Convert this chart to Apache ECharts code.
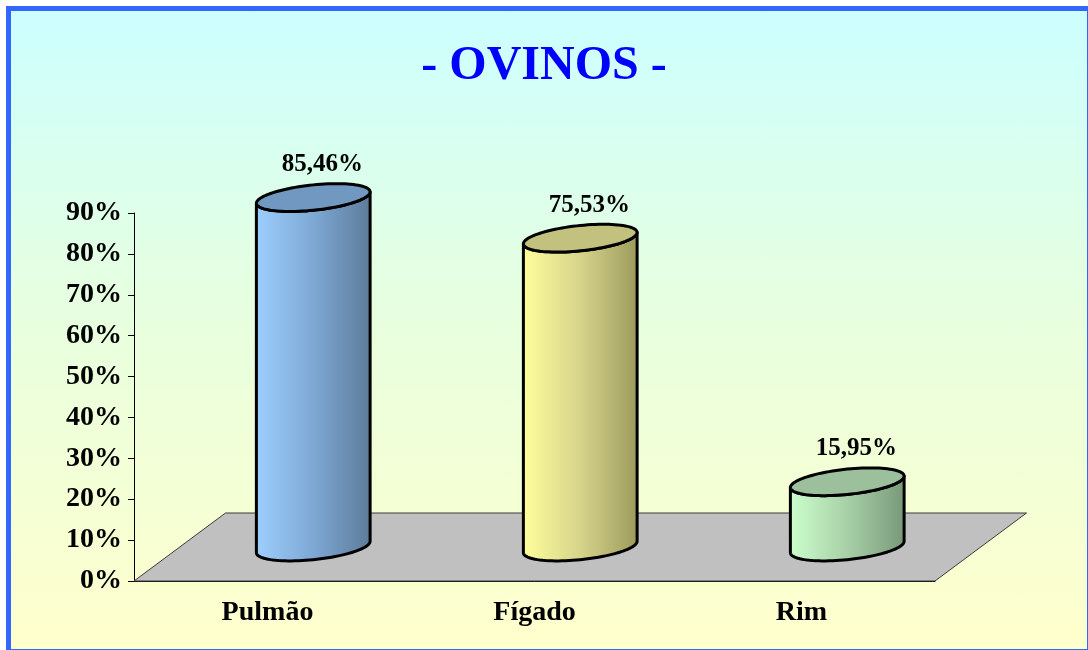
<!DOCTYPE html>
<html>
<head>
<meta charset="utf-8">
<script src="https://cdn.jsdelivr.net/npm/echarts@6/dist/echarts.min.js"></script>
<style>
  html, body { margin: 0; padding: 0; width: 1088px; height: 650px; overflow: hidden; background: #fff; }
  #frame {
    position: absolute; left: 6px; top: 6px; width: 1086px; height: 648px;
    box-sizing: border-box; border: 5px solid #3366ff;
    background: linear-gradient(to bottom, #ccffff 0%, #e6ffe0 45%, #ffffcc 100%);
  }
  #chart { position: absolute; left: 0; top: 0; width: 1088px; height: 650px; }
</style>
</head>
<body>
<div id="frame"></div>
<div id="chart"></div>
<script>
const categories = ['Pulmão', 'Fígado', 'Rim']
const values = [85.46, 75.53, 15.95]
const yTicks = [0, 90, 10] // min, max, step

// body gradient (left, mid, right) and top colour per cylinder
const bodyColors = [
  ['#9dcfff', '#7ea8d4', '#5d7b9a'],
  ['#ffff9c', '#d6d48a', '#9c9a5c'],
  ['#ccffcc', '#a8d0a8', '#789878']
]
const topColors = ['#7198c0', '#c2c27e', '#9cbf9c']

// depth of the floor (screen offset of the back edge)
const DX = 91.5, DY = -68

function ellipsePts(cx, cy, rx, ry, k, from, to, n) {
  const pts = []
  for (let j = 0; j <= n; j++) {
    const t = from + (to - from) * j / n
    pts.push([cx + rx * Math.cos(t), cy + ry * Math.sin(t) - k * rx * Math.cos(t)])
  }
  return pts
}

function fmt(v) {
  return v.toFixed(2).replace('.', ',') + '%'
}

const chart = echarts.init(document.getElementById('chart'))

const option = {
  backgroundColor: 'transparent',
  title: {
    text: '- OVINOS -',
    left: 'center',
    top: 38,
    textStyle: { color: '#0000ff', fontFamily: 'Liberation Serif', fontWeight: 'bold', fontSize: 48 }
  },
  grid: { left: 134, right: 153, top: 213, bottom: 69 },
  xAxis: {
    type: 'category',
    data: categories,
    axisLine: { lineStyle: { color: '#000', width: 1 } },
    axisTick: { length: 7, lineStyle: { color: '#000' } },
    axisLabel: { color: '#000', fontFamily: 'Liberation Serif', fontWeight: 'bold', fontSize: 28, margin: 18 }
  },
  yAxis: {
    type: 'value',
    min: yTicks[0],
    max: yTicks[1],
    interval: yTicks[2],
    axisLine: { show: true, lineStyle: { color: '#000', width: 1 } },
    axisTick: { show: true, length: 6, lineStyle: { color: '#000' } },
    splitLine: { show: false },
    axisLabel: {
      formatter: '{value}%', color: '#000', fontFamily: 'Liberation Serif',
      fontWeight: 'bold', fontSize: 28, margin: 12
    }
  },
  series: [
    {
      // floor
      type: 'custom',
      z: 1,
      data: [[0, 0]],
      renderItem(params, api) {
        const cs = params.coordSys
        const yb = cs.y + cs.height
        return {
          type: 'polygon',
          shape: { points: [[cs.x, yb], [cs.x + cs.width, yb], [cs.x + cs.width + DX, yb + DY], [cs.x + DX, yb + DY]] },
          style: { fill: '#c0c0c0', stroke: '#3a3a3a', lineWidth: 1 }
        }
      }
    },
    {
      type: 'custom',
      z: 3,
      data: values.map((v, i) => [i, v]),
      renderItem(params, api) {
        const i = api.value(0), v = api.value(1)
        const base = api.coord([i, 0])
        const top = api.coord([i, v])
        const band = api.size([1, 0])[0]
        const rx = band * 0.213, ry = rx * 0.223, k = 0.1
        const cx = base[0] + DX / 2
        const yb = base[1] + DY / 2
        const yt = top[1] + DY / 2
        const c = bodyColors[i]
        const front = ellipsePts(cx, yt, rx, ry, k, Math.PI, 0, 48)
          .concat(ellipsePts(cx, yb, rx, ry, k, 0, Math.PI, 48))
        const lid = ellipsePts(cx, yt, rx, ry, k, 0, Math.PI * 2, 96)
        return {
          type: 'group',
          children: [
            {
              type: 'polygon',
              shape: { points: front },
              style: {
                fill: {
                  type: 'linear', x: 0, y: 0, x2: 1, y2: 0,
                  colorStops: [{ offset: 0, color: c[0] }, { offset: 0.5, color: c[1] }, { offset: 1, color: c[2] }]
                },
                stroke: '#000', lineWidth: 3, lineJoin: 'round'
              }
            },
            {
              type: 'polygon',
              shape: { points: lid },
              style: { fill: topColors[i], stroke: '#000', lineWidth: 3, lineJoin: 'round' }
            },
            {
              type: 'text',
              x: cx + 9,
              y: yt - 33,
              style: {
                text: fmt(v), align: 'center', verticalAlign: 'middle',
                font: 'bold 25px "Liberation Serif"', fill: '#000'
              }
            }
          ]
        }
      }
    }
  ]
}

chart.setOption(option)
</script>
</body>
</html>
